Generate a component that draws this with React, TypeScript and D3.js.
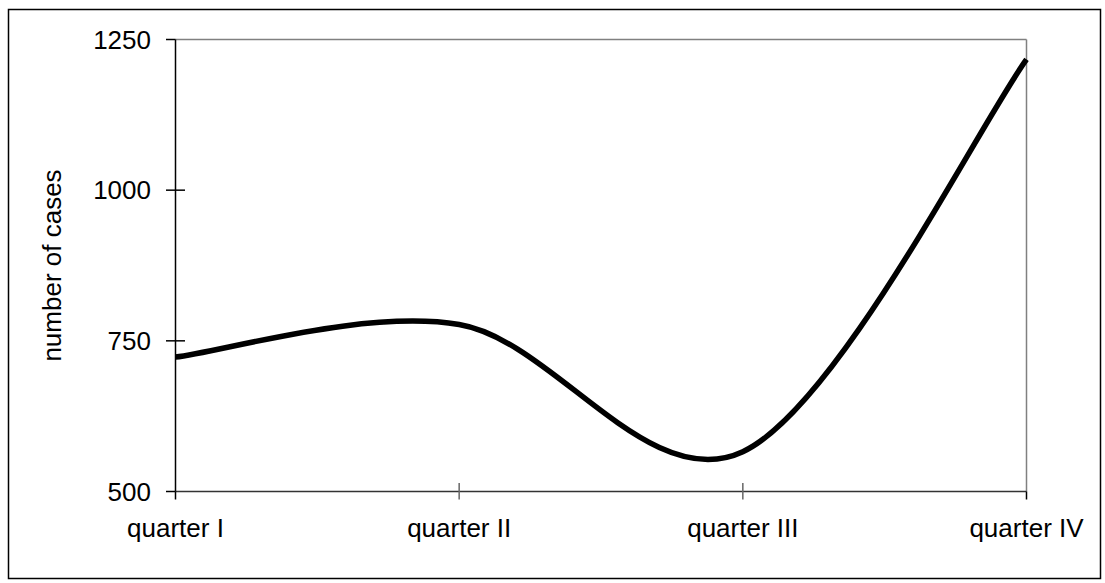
import React from "react";
import * as d3 from "d3";

const categories = ["quarter I", "quarter II", "quarter III", "quarter IV"];
const cases = [723, 777, 566, 1217];
const yTicks = [500, 750, 1000, 1250];
const yTitle = "number of cases";

// Excel-style smoothing: Catmull-Rom bezier with duplicated end points
function excelCurve(context: any) {
  let pts: [number, number][] = [];
  return {
    areaStart() {},
    areaEnd() {},
    lineStart() { pts = []; },
    point(x: number, y: number) { pts.push([+x, +y]); },
    lineEnd() {
      const n = pts.length;
      if (!n) return;
      context.moveTo(pts[0][0], pts[0][1]);
      for (let i = 0; i < n - 1; i++) {
        const p0 = pts[Math.max(0, i - 1)];
        const p1 = pts[i];
        const p2 = pts[i + 1];
        const p3 = pts[Math.min(n - 1, i + 2)];
        context.bezierCurveTo(
          p1[0] + (p2[0] - p0[0]) / 6, p1[1] + (p2[1] - p0[1]) / 6,
          p2[0] - (p3[0] - p1[0]) / 6, p2[1] - (p3[1] - p1[1]) / 6,
          p2[0], p2[1]
        );
      }
    },
  };
}

export default function App() {
  const W = 1105, H = 583;
  const left = 175.5, right = 1026.5, top = 39.5, bottom = 491.5;
  const x = d3.scalePoint<string>().domain(categories).range([left, right]);
  const y = d3.scaleLinear().domain([500, 1250]).range([bottom, top]);
  const line = d3.line<number>()
    .x((_, i) => x(categories[i]) as number)
    .y((d) => y(d))
    .curve(excelCurve as any);
  const font = "'Liberation Sans', Arial, sans-serif";
  return (
    <svg width={W} height={H} style={{ position: "absolute", left: 0, top: 0, background: "#fff" }}>
      <rect x={8.5} y={9.5} width={1092} height={569} fill="#fff" stroke="#000" strokeWidth={1.5} />
      {/* plot frame */}
      <line x1={left} y1={top} x2={right} y2={top} stroke="#808080" strokeWidth={1.5} />
      <line x1={right} y1={top} x2={right} y2={bottom} stroke="#808080" strokeWidth={1.5} />
      <line x1={left} y1={bottom} x2={right} y2={bottom} stroke="#333" strokeWidth={1.5} />
      <line x1={left} y1={top} x2={left} y2={bottom} stroke="#000" strokeWidth={1.5} />
      {yTicks.map((t) => (
        <g key={t}>
          <line x1={166} x2={t === 500 || t === 1250 ? left : 185} y1={y(t)} y2={y(t)} stroke="#000" strokeWidth={1.5} />
          <text x={151} y={y(t)} dy="0.35em" textAnchor="end" fontFamily={font} fontSize={26} fill="#000">{t}</text>
        </g>
      ))}
      {categories.map((c, i) => (
        <g key={c}>
          <line x1={x(c)} x2={x(c)} y1={i === 0 || i === categories.length - 1 ? bottom : 483} y2={499.5} stroke={i === 0 || i === 3 ? "#000" : "#666"} strokeWidth={1.5} />
          <text x={x(c)} y={537} textAnchor="middle" fontFamily={font} fontSize={26} fill="#000">{c}</text>
        </g>
      ))}
      <text transform={`translate(61,${(top + bottom) / 2}) rotate(-90)`} textAnchor="middle" fontFamily={font} fontSize={26} fill="#000">{yTitle}</text>
      <path d={line(cases) || ""} fill="none" stroke="#000" strokeWidth={5.5} strokeLinejoin="round" />
    </svg>
  );
}
